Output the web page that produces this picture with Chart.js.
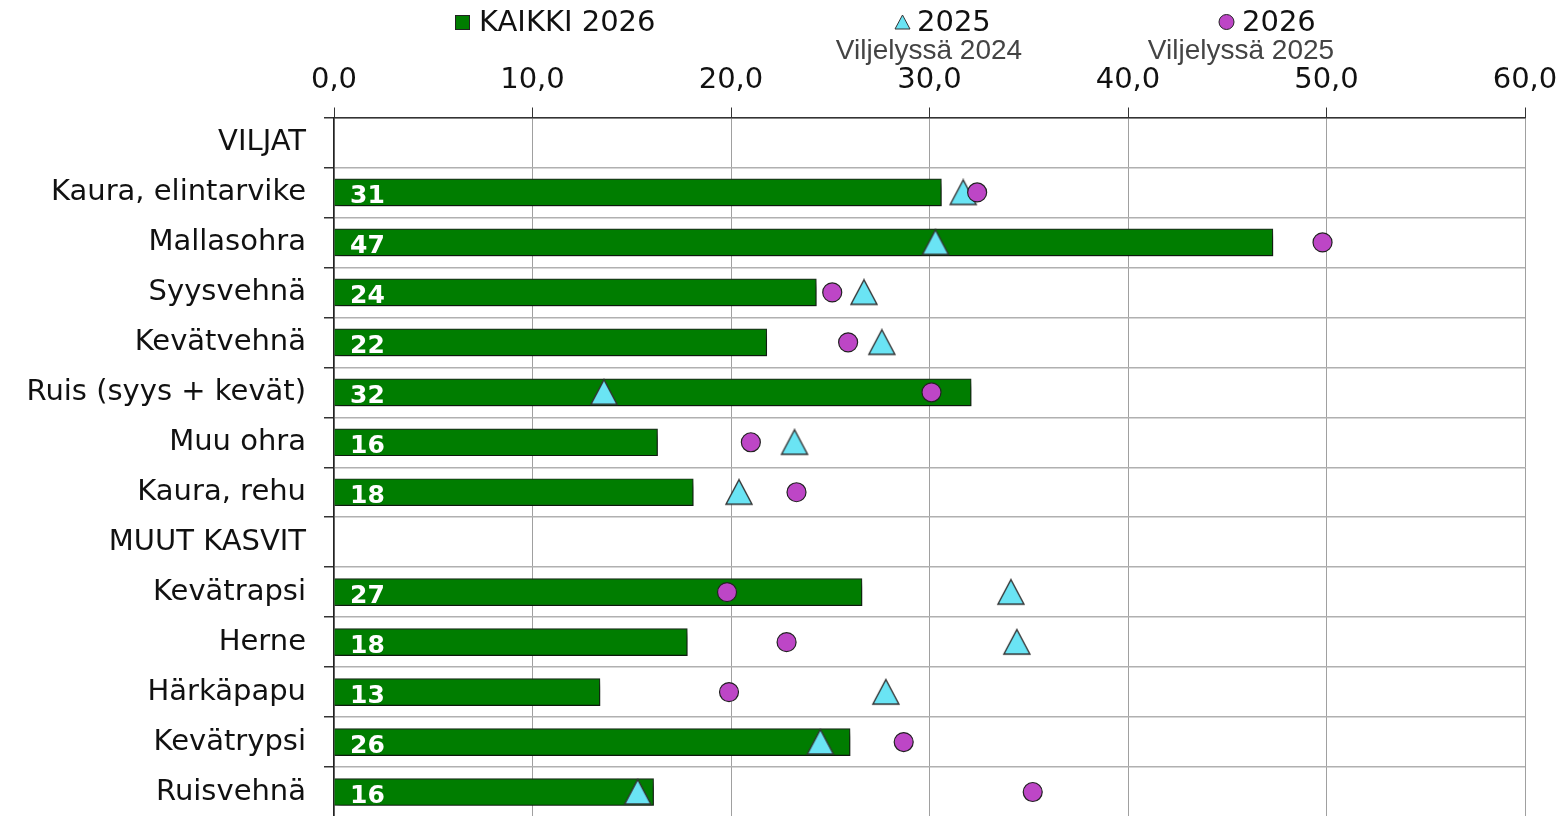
<!DOCTYPE html>
<html lang="fi">
<head>
    <meta charset="UTF-8" />
    <title>Viljelyssä</title>
    <script src="https://cdn.jsdelivr.net/npm/chart.js"></script>
    <style>
        html, body { margin: 0; padding: 0; background: #fff; overflow: hidden; }
        #cropChart { display: block; }
    </style>
</head>
<body>
    <canvas id="cropChart" width="1565" height="832"></canvas>
    <script>
        // categories
        const crops = ["VILJAT", "Kaura, elintarvike", "Mallasohra", "Syysvehnä", "Kevätvehnä",
            "Ruis (syys + kevät)", "Muu ohra", "Kaura, rehu", "MUUT KASVIT", "Kevätrapsi",
            "Herne", "Härkäpapu", "Kevätrypsi", "Ruisvehnä"];

        // KAIKKI 2026 (bars)
        const all2026 = [null, 30.6, 47.3, 24.3, 21.8, 32.1, 16.3, 18.1, null, 26.6, 17.8, 13.4, 26.0, 16.1];
        // 2025 - Viljelyssä 2024 (triangles)
        const grown2024 = [null, 31.7, 30.3, 26.7, 27.6, 13.6, 23.2, 20.4, null, 34.1, 34.4, 27.8, 24.5, 15.3];
        // 2026 - Viljelyssä 2025 (circles)
        const grown2025 = [null, 32.4, 49.8, 25.1, 25.9, 30.1, 21.0, 23.3, null, 19.8, 22.8, 19.9, 28.7, 35.2];

        const xTicks = [0, 10, 20, 30, 40, 50, 60];

        const GREEN = "#007d00";
        const CYAN = "#6ae4f4";
        const PURPLE = "#bd46c6";

        // triangle marker as a small canvas so the base sits a bit low like the original
        const tri = document.createElement("canvas");
        tri.width = 30;
        tri.height = 28;
        (function () {
            const c = tri.getContext("2d");
            c.beginPath();
            c.moveTo(2, 26);
            c.lineTo(28, 26);
            c.lineTo(15, 1.5);
            c.closePath();
            c.fillStyle = CYAN;
            c.fill();
            c.lineWidth = 1.4;
            c.strokeStyle = "#333";
            c.stroke();
        })();

        // shadow under the bars
        const barShadow = {
            id: "barShadow",
            beforeDatasetDraw(chart, args) {
                if (args.index !== 0) return;
                const ctx = chart.ctx;
                ctx.save();
                ctx.shadowColor = "rgba(0,0,0,0.5)";
                ctx.shadowBlur = 6;
                ctx.shadowOffsetX = 3;
                ctx.shadowOffsetY = 6;
            },
            afterDatasetDraw(chart, args) {
                if (args.index !== 0) return;
                chart.ctx.restore();
            }
        };

        // white value labels inside bars
        const barLabels = {
            id: "barLabels",
            afterDatasetsDraw(chart) {
                const ctx = chart.ctx;
                const meta = chart.getDatasetMeta(0);
                ctx.save();
                ctx.font = "bold 25px 'DejaVu Sans'";
                ctx.fillStyle = "#fff";
                ctx.textAlign = "left";
                ctx.textBaseline = "middle";
                meta.data.forEach((bar, i) => {
                    if (all2026[i] === null) return;
                    ctx.fillText(String(Math.round(all2026[i])), chart.chartArea.left + 16, bar.y + 4);
                });
                ctx.restore();
            }
        };

        // legend at top
        const topLegend = {
            id: "topLegend",
            afterDraw(chart) {
                const ctx = chart.ctx;
                ctx.save();
                ctx.textBaseline = "middle";
                ctx.textAlign = "left";
                ctx.font = "29px 'DejaVu Sans'";

                ctx.fillStyle = GREEN;
                ctx.strokeStyle = "#222";
                ctx.lineWidth = 1;
                ctx.fillRect(455.5, 15.5, 14, 14);
                ctx.strokeRect(455.5, 15.5, 14, 14);
                ctx.fillStyle = "#111";
                ctx.fillText("KAIKKI 2026", 479, 23);

                ctx.beginPath();
                ctx.moveTo(895, 29);
                ctx.lineTo(910, 29);
                ctx.lineTo(902.5, 15);
                ctx.closePath();
                ctx.fillStyle = CYAN;
                ctx.fill();
                ctx.strokeStyle = "#333";
                ctx.stroke();
                ctx.fillStyle = "#111";
                ctx.fillText("2025", 917, 23);

                ctx.beginPath();
                ctx.arc(1226.5, 22, 7.5, 0, Math.PI * 2);
                ctx.fillStyle = PURPLE;
                ctx.fill();
                ctx.strokeStyle = "#222";
                ctx.stroke();
                ctx.fillStyle = "#111";
                ctx.fillText("2026", 1242, 23);

                ctx.font = "28px 'Liberation Sans'";
                ctx.fillStyle = "#444";
                ctx.textAlign = "center";
                ctx.fillText("Viljelyssä 2024", 929, 51);
                ctx.fillText("Viljelyssä 2025", 1241, 51);
                ctx.restore();
            }
        };

        const cropConfig = {
            data: {
                labels: crops,
                datasets: [
                    {
                        type: "bar",
                        label: "KAIKKI 2026",
                        data: all2026,
                        backgroundColor: GREEN,
                        borderColor: "#1c2e1c",
                        borderWidth: 1.2,
                        barThickness: 27,
                        order: 2
                    },
                    {
                        type: "line",
                        label: "2025",
                        data: grown2024,
                        showLine: false,
                        pointStyle: tri,
                        pointRadius: 14,
                        order: 1
                    },
                    {
                        type: "line",
                        label: "2026",
                        data: grown2025,
                        showLine: false,
                        pointStyle: "circle",
                        pointRadius: 9.5,
                        pointBackgroundColor: PURPLE,
                        pointBorderColor: "#222",
                        pointBorderWidth: 1.2,
                        order: 0
                    }
                ]
            },
            options: {
                indexAxis: "y",
                responsive: false,
                animation: false,
                layout: { padding: { left: 0, right: 40, top: 0, bottom: 0 } },
                plugins: {
                    legend: { display: false },
                    tooltip: { enabled: false }
                },
                scales: {
                    x: {
                        position: "top",
                        min: 0,
                        max: 60,
                        afterBuildTicks(scale) {
                            scale.ticks = xTicks.map(v => ({ value: v }));
                        },
                        afterFit(scale) {
                            scale.height = 117.5;
                            scale.paddingRight = 0;
                        },
                        ticks: {
                            font: { family: "DejaVu Sans", size: 29 },
                            color: "#111",
                            padding: 10,
                            maxRotation: 0,
                            callback: v => v.toFixed(1).replace(".", ",")
                        },
                        grid: {
                            color: "#a0a0a0",
                            lineWidth: 1,
                            tickLength: 10,
                            tickColor: "#333"
                        },
                        border: { color: "#333", width: 1.5 }
                    },
                    y: {
                        afterFit(scale) {
                            scale.width = 334;
                            scale.paddingTop = 0;
                            scale.paddingBottom = 0;
                        },
                        ticks: {
                            font: { family: "DejaVu Sans", size: 29 },
                            color: "#111",
                            padding: 18,
                            autoSkip: false
                        },
                        grid: {
                            offset: true,
                            color: "#b0b0b0",
                            lineWidth: 1.5,
                            tickLength: 10,
                            tickColor: "#333"
                        },
                        border: { color: "#222", width: 1.5 }
                    }
                }
            },
            plugins: [barShadow, barLabels, topLegend]
        };

        window.onload = function () {
            const ctx = document.getElementById("cropChart").getContext("2d");
            new Chart(ctx, cropConfig);
        };
    </script>
</body>
</html>
